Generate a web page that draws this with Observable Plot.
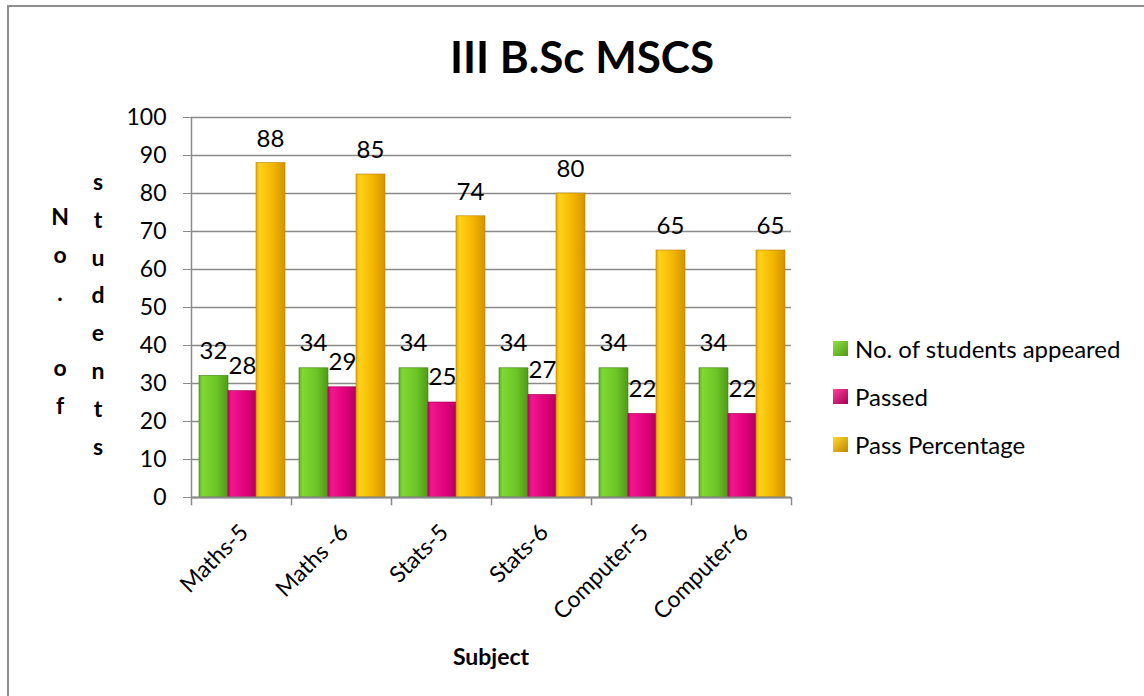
<!DOCTYPE html>
<html>
<head>
<meta charset="utf-8">
<script src="https://cdn.jsdelivr.net/npm/d3@7"></script>
<script src="https://cdn.jsdelivr.net/npm/@observablehq/plot@0.6"></script>
<style>
  html, body { margin: 0; padding: 0; background: #fff; overflow: hidden; }
  #wrap { position: relative; width: 1144px; height: 696px; font-family: Lato, "Noto Sans", sans-serif; color: #000; }
  #wrap svg { position: absolute; left: 0; top: 0; }
  .frame { position: absolute; left: 7px; top: 5px; width: 1300px; height: 900px; border-left: 2px solid #8e8e8e; border-top: 2px solid #8e8e8e; }
  .abs { position: absolute; white-space: nowrap; }
  .title { font-weight: 700; font-size: 44px; }
  .xlabel { font-weight: 700; font-size: 23px; }
  .ycol { position: absolute; font-weight: 700; font-size: 23px; text-align: center; width: 30px; }
  .ycol span { display: block; height: 37.8px; line-height: 37.8px; }
  .leg { position: absolute; left: 833px; font-size: 24px; display: flex; align-items: center; }
  .leg i { display: inline-block; width: 15px; height: 15px; margin-right: 7px; box-sizing: border-box; }
</style>
</head>
<body>
<div id="wrap"><div class="frame"></div></div>
<script>
const subjects = ["Maths-5", "Maths -6", "Stats-5", "Stats-6", "Computer-5", "Computer-6"];
const appeared = [32, 34, 34, 34, 34, 34];
const passed = [28, 29, 25, 27, 22, 22];
const passPercentage = [88, 85, 74, 80, 65, 65];
const seriesNames = ["No. of students appeared", "Passed", "Pass Percentage"];
const yTicks = [0, 10, 20, 30, 40, 50, 60, 70, 80, 90, 100];
const titleText = "III B.Sc MSCS";
const xTitle = "Subject";
const yTitleLeft = "No. of";
const yTitleRight = "students";

const rowsA = subjects.map((s, i) => ({subject: s, value: appeared[i]}));
const rowsP = subjects.map((s, i) => ({subject: s, value: passed[i]}));
const rowsQ = subjects.map((s, i) => ({subject: s, value: passPercentage[i]}));

const grid = "#8a8a8a";
const font = "Lato, 'Noto Sans', sans-serif";

const chart = Plot.plot({
  width: 1144,
  height: 696,
  marginLeft: 191,
  marginRight: 353,
  marginTop: 117,
  marginBottom: 199,
  style: {fontFamily: font, background: "transparent", overflow: "visible"},
  x: {domain: subjects, padding: 0, axis: null},
  y: {domain: [0, 100], axis: null},
  marks: [
    Plot.ruleY(yTicks, {stroke: grid, strokeWidth: 1.3}),
    Plot.ruleY(yTicks, {x1: subjects[0], x2: subjects[0], stroke: grid, strokeWidth: 1.3}),
    Plot.axisY({ticks: yTicks, tickSize: 8, tickPadding: 17, fontSize: 23, stroke: grid, tickFormat: d => String(d), color: "#000", label: null}),
    Plot.barY(rowsA, {x: "subject", y: "value", insetLeft: 8, insetRight: 63, fill: "url(#gGreen)", stroke: "#3f7f14", strokeWidth: 0.6}),
    Plot.barY(rowsP, {x: "subject", y: "value", insetLeft: 37, insetRight: 34, fill: "url(#gPink)", stroke: "#a0004f", strokeWidth: 0.6}),
    Plot.barY(rowsQ, {x: "subject", y: "value", insetLeft: 65, insetRight: 6, fill: "url(#gYellow)", stroke: "#b88200", strokeWidth: 0.6}),
    Plot.ruleY([0], {stroke: "#8a8a8a", strokeWidth: 2}),
    Plot.ruleX([subjects[0]], {dx: -50, y1: 0, y2: 100, stroke: grid, strokeWidth: 1.5}),
    Plot.ruleX(subjects, {x: d => d, dx: -50, y1: 0, y2: -2.2, stroke: grid, strokeWidth: 1.5}),
    Plot.ruleX([subjects[subjects.length - 1]], {dx: 50, y1: 0, y2: -2.2, stroke: grid, strokeWidth: 1.5}),
    Plot.text(rowsA, {x: "subject", y: "value", text: d => String(d.value), dx: -28, dy: -25, fontSize: 24, fill: "#000"}),
    Plot.text(rowsP, {x: "subject", y: "value", text: d => String(d.value), dx: 1, dy: -25, fontSize: 24, fill: "#000"}),
    Plot.text(rowsQ, {x: "subject", y: "value", text: d => String(d.value), dx: 29, dy: -24, fontSize: 24, fill: "#000"}),
    Plot.text(subjects, {x: d => d, y: () => 0, text: d => d, rotate: -45, textAnchor: "end", lineAnchor: "middle", dx: 3, dy: 31, fontSize: 23, fill: "#000"})
  ]
});

// gradients for 3D-like bars
const defs = d3.select(chart).insert("defs", ":first-child");
function grad(id, stops) {
  const g = defs.append("linearGradient").attr("id", id).attr("x1", "0").attr("x2", "1").attr("y1", "0").attr("y2", "0");
  stops.forEach(([o, c]) => g.append("stop").attr("offset", o).attr("stop-color", c));
}
grad("gGreen", [[0, "#5fb21f"], [0.12, "#7fd832"], [0.6, "#6cc526"], [1, "#4f9a19"]]);
grad("gPink", [[0, "#c6006a"], [0.12, "#f0188c"], [0.6, "#e0007a"], [1, "#b0005a"]]);
grad("gYellow", [[0, "#e6a800"], [0.12, "#ffd21a"], [0.6, "#f3b400"], [1, "#d29400"]]);

const wrap = document.getElementById("wrap");
wrap.appendChild(chart);

function addDiv(cls, text, css) {
  const d = document.createElement("div");
  d.className = cls;
  if (text != null) d.textContent = text;
  Object.assign(d.style, css);
  wrap.appendChild(d);
  return d;
}

// title
const t = addDiv("abs title", titleText, {left: "582px", top: "56px", transform: "translate(-50%, -50%)"});
// x title
addDiv("abs xlabel", xTitle, {left: "491px", top: "656px", transform: "translate(-50%, -50%)"});

// y title columns
function yCol(text, cx, firstCenter) {
  const d = addDiv("ycol", null, {left: (cx - 15) + "px", top: (firstCenter - 18.9) + "px"});
  for (const ch of text) {
    const s = document.createElement("span");
    s.textContent = ch === " " ? "\u00a0" : ch;
    d.appendChild(s);
  }
}
yCol(yTitleLeft, 60, 217);
yCol(yTitleRight, 98, 182);

// legend
const legColors = [
  "linear-gradient(135deg, #8fe040, #4f9a19)",
  "linear-gradient(135deg, #ff3fa0, #a0004f)",
  "linear-gradient(135deg, #ffd92a, #c08600)"
];
const legY = [348, 396, 444];
seriesNames.forEach((name, i) => {
  const d = addDiv("leg", null, {top: (legY[i] - 16) + "px", height: "32px"});
  const sw = document.createElement("i");
  sw.style.background = legColors[i];
  d.appendChild(sw);
  const sp = document.createElement("span");
  sp.textContent = name;
  d.appendChild(sp);
});
</script>
</body>
</html>
